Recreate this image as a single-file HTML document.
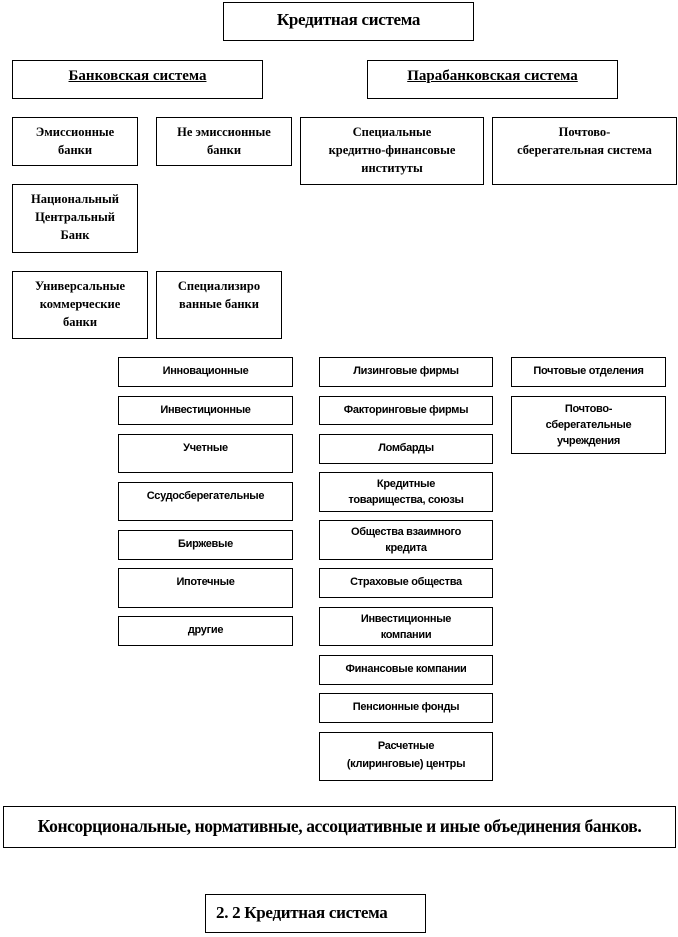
<!DOCTYPE html>
<html><head><meta charset="utf-8"><style>
body{margin:0;width:678px;height:937px;background:#fff;position:relative;overflow:hidden}
.b{position:absolute;box-sizing:border-box;border:1px solid #000;text-align:center;color:#000}
.s{font-family:"Liberation Serif",serif;font-weight:bold;font-size:12.5px;line-height:18px;padding-top:5px}
.a{font-family:"Liberation Sans",sans-serif;font-weight:bold;font-size:11px;line-height:16px;padding-top:5px;letter-spacing:-0.3px}
.t{font-family:"Liberation Serif",serif;font-weight:bold;font-size:17px;line-height:20px;letter-spacing:-0.3px}
.h{font-family:"Liberation Serif",serif;font-weight:bold;font-size:15px;text-decoration:underline;padding-top:7px}
</style></head><body>
<div class="b t" style="left:223px;top:2px;width:251px;height:39px;padding-top:7px">Кредитная система</div>
<div class="b h" style="left:12px;top:60px;width:251px;height:39px">Банковская система</div>
<div class="b h" style="left:367px;top:60px;width:251px;height:39px">Парабанковская система</div>
<div class="b s" style="left:12px;top:117px;width:126px;height:49px">Эмиссионные<br>банки</div>
<div class="b s" style="left:156px;top:117px;width:136px;height:49px">Не эмиссионные<br>банки</div>
<div class="b s" style="left:300px;top:117px;width:184px;height:68px">Специальные<br>кредитно-финансовые<br>институты</div>
<div class="b s" style="left:492px;top:117px;width:185px;height:68px">Почтово-<br>сберегательная система</div>
<div class="b s" style="left:12px;top:184px;width:126px;height:69px">Национальный<br>Центральный<br>Банк</div>
<div class="b s" style="left:12px;top:271px;width:136px;height:68px">Универсальные<br>коммерческие<br>банки</div>
<div class="b s" style="left:156px;top:271px;width:126px;height:68px">Специализиро<br>ванные банки</div>

<div class="b a" style="left:118px;top:357px;width:175px;height:30px">Инновационные</div>
<div class="b a" style="left:118px;top:396px;width:175px;height:29px">Инвестиционные</div>
<div class="b a" style="left:118px;top:434px;width:175px;height:39px">Учетные</div>
<div class="b a" style="left:118px;top:482px;width:175px;height:39px">Ссудосберегательные</div>
<div class="b a" style="left:118px;top:530px;width:175px;height:30px">Биржевые</div>
<div class="b a" style="left:118px;top:568px;width:175px;height:40px">Ипотечные</div>
<div class="b a" style="left:118px;top:616px;width:175px;height:30px">другие</div>

<div class="b a" style="left:319px;top:357px;width:174px;height:30px">Лизинговые фирмы</div>
<div class="b a" style="left:319px;top:396px;width:174px;height:29px">Факторинговые фирмы</div>
<div class="b a" style="left:319px;top:434px;width:174px;height:30px">Ломбарды</div>
<div class="b a" style="left:319px;top:472px;width:174px;height:40px;padding-top:3px">Кредитные<br>товарищества, союзы</div>
<div class="b a" style="left:319px;top:520px;width:174px;height:40px;padding-top:3px">Общества взаимного<br>кредита</div>
<div class="b a" style="left:319px;top:568px;width:174px;height:30px">Страховые общества</div>
<div class="b a" style="left:319px;top:607px;width:174px;height:39px;padding-top:3px">Инвестиционные<br>компании</div>
<div class="b a" style="left:319px;top:655px;width:174px;height:30px">Финансовые компании</div>
<div class="b a" style="left:319px;top:693px;width:174px;height:30px">Пенсионные фонды</div>
<div class="b a" style="left:319px;top:732px;width:174px;height:49px;padding-top:4px;line-height:18px">Расчетные<br>(клиринговые) центры</div>

<div class="b a" style="left:511px;top:357px;width:155px;height:30px">Почтовые отделения</div>
<div class="b a" style="left:511px;top:396px;width:155px;height:58px;line-height:16px;padding-top:4px">Почтово-<br>сберегательные<br>учреждения</div>

<div class="b t" style="left:3px;top:806px;width:673px;height:42px;padding-top:9px;font-size:17.5px;letter-spacing:-0.4px">Консорциональные, нормативные, ассоциативные и иные объединения банков.</div>
<div class="b t" style="left:205px;top:894px;width:221px;height:39px;padding-top:8px;text-align:left;padding-left:10px">2. 2 Кредитная система</div>
</body></html>
